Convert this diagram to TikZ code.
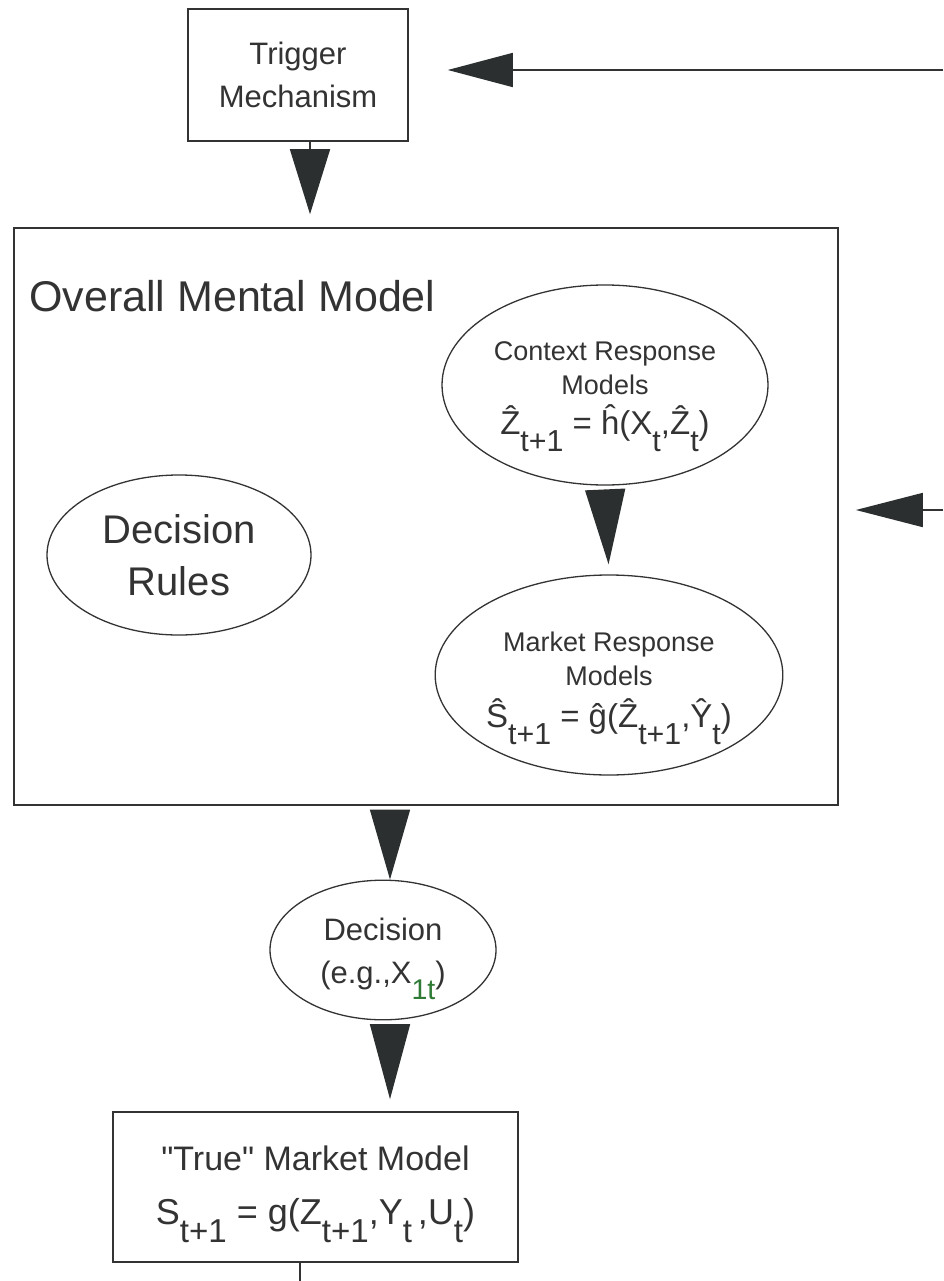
\documentclass[tikz,border=0pt]{standalone}
\usepackage{fontspec}
\setmainfont{Liberation Sans}
\newfontfamily\plainfont{Liberation Sans}
\usetikzlibrary{arrows.meta,shapes.geometric,calc}
\definecolor{ink}{HTML}{333333}
\definecolor{tipink}{HTML}{2B2F2F}
\definecolor{subgreen}{HTML}{2F7A35}
\newcommand{\lowsub}[1]{\raisebox{-0.5em}{\scalebox{0.92}{#1}}}
\newcommand{\fsz}[2]{\fontsize{#1}{#2}\selectfont}
\tikzset{
  boxnode/.style={draw=ink, line width=1.6pt, text=ink, align=center, inner sep=0pt},
  ellnode/.style={ellipse, draw=ink, line width=1.3pt, text=ink, align=center, inner sep=0pt},
  conn/.style={draw=ink, line width=1.6pt},
  bigtip/.style={conn, -{Triangle[length=#1, width=40pt, fill=tipink, color=tipink]}},
  sidetip/.style={conn, -{Triangle[length=#1, width=34pt, fill=tipink, color=tipink]}}
}
\begin{document}
\begin{tikzpicture}[x=1pt,y=-1pt]
\useasboundingbox (0,0) rectangle (943,1281);
\fill[white] (0,0) rectangle (943,1281);

% nodes
\node[boxnode, minimum width=220pt, minimum height=132pt, font=\fsz{31}{43}] (trig) at (298,75)
  {Trigger\\Mechanism};
\node[boxnode, minimum width=824pt, minimum height=577pt] (main) at (426,516.5) {};
\node[text=ink, anchor=west, inner sep=0pt, font=\fsz{43}{48}] (title) at (29,296)
  {Overall Mental Model};
\node[ellnode, minimum width=326pt, minimum height=200pt, font=\fsz{27}{34}] (ctx) at (605,385)
  {\rule{0pt}{42pt}Context Response\\Models\\[6pt]
   \fsz{33}{36}\^Z\lowsub{t+1} = \^h(X\lowsub{t},\^Z\lowsub{t})};
\node[ellnode, minimum width=342pt, minimum height=200pt, font=\fsz{27}{34}] (mkt) at (609,675)
  {\rule{0pt}{46pt}Market Response\\Models\\[8pt]
   \fsz{33}{36}\^S\lowsub{t+1} = \^g(\^Z\lowsub{t+1},\^Y\lowsub{t})};
\node[ellnode, minimum width=264pt, minimum height=160pt, font=\fsz{40}{52}] (rules) at (179,555)
  {Decision\\Rules};
\node[ellnode, minimum width=226pt, minimum height=136pt, font=\fsz{31}{43}] (dec) at (383,950)
  {\rule{0pt}{40pt}Decision\\(e.g.,X\lowsub{\textcolor{subgreen}{1t}})};
\node[boxnode, minimum width=405pt, minimum height=150pt, font=\fsz{34}{42}] (true) at (315.5,1187)
  {\rule{0pt}{40pt}{\plainfont"}True{\plainfont"} Market Model\\[12pt]
   \fsz{36}{42}S\lowsub{t+1} = g(Z\lowsub{t+1},Y\lowsub{t}\,,U\lowsub{t})};

% coordinates for connector positions
\coordinate (xa) at (310,0);
\coordinate (xb) at (390,0);
\coordinate (rin1) at (943,70);
\coordinate (rin2) at (943,510);
\coordinate (bot) at (300,1281);

% connectors
\draw[bigtip=65pt, shorten >=13pt] (trig.south -| xa) -- (main.north -| xa);
\draw[sidetip=65pt, shorten >=39pt] (rin1) -- (trig.east |- rin1);
\draw[sidetip=67pt, shorten >=17pt] (rin2) -- (main.east |- rin2);
\draw[bigtip=75pt, shorten <=5pt, shorten >=10pt] (ctx.south) -- (mkt.north);
\draw[bigtip=70pt, shorten <=7pt, shorten >=2pt] (main.south -| xb) -- ($(dec.north -| xb)+(0,2)$);
\draw[bigtip=75pt, shorten <=7pt, shorten >=12pt] ($(dec.south -| xb)+(0,-2)$) -- (true.north -| xb);
\draw[conn] (true.south -| bot) -- (bot);
\end{tikzpicture}
\end{document}
